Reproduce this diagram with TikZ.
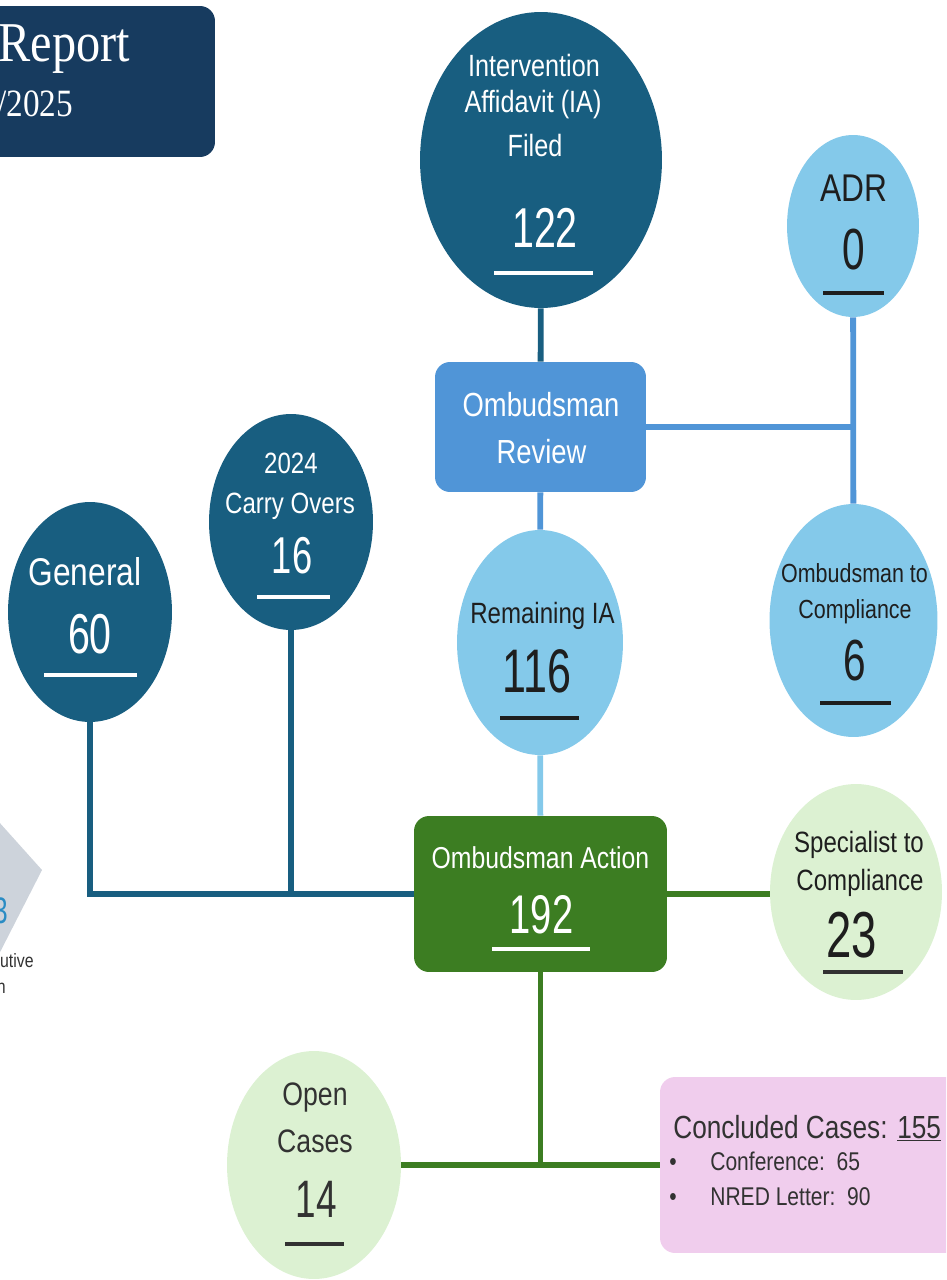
\documentclass[tikz,border=0pt]{standalone}
\usepackage{fontspec}
\setmainfont{Liberation Sans}[FakeStretch=0.82]
\newfontfamily\numfont{Liberation Sans}[FakeStretch=0.7]
\newfontfamily\headfont{Liberation Serif}[FakeStretch=0.86]
\usetikzlibrary{shapes,positioning}
\definecolor{navy}{RGB}{23,59,95}
\definecolor{deepteal}{RGB}{24,94,128}
\definecolor{reviewblue}{RGB}{80,149,215}
\definecolor{skyblue}{RGB}{132,201,234}
\definecolor{actiongreen}{RGB}{60,125,34}
\definecolor{mint}{RGB}{220,241,210}
\definecolor{pinkish}{RGB}{240,205,237}
\definecolor{diamondgrey}{RGB}{205,211,219}
\definecolor{inkdark}{RGB}{30,30,30}
\definecolor{inkgrey}{RGB}{50,50,50}
\definecolor{digitblue}{RGB}{42,140,196}
\tikzstyle{darkball} = [ellipse, fill=deepteal, inner sep=0pt]
\tikzstyle{skyball} = [ellipse, fill=skyblue, inner sep=0pt]
\tikzstyle{mintball} = [ellipse, fill=mint, inner sep=0pt]
\tikzstyle{block} = [rectangle, rounded corners=0.3cm, inner sep=0pt]
\tikzstyle{line} = [draw, line width=3.3pt]
\tikzstyle{txt} = [inner sep=0pt, anchor=base]
\tikzstyle{uline} = [draw, line width=2.8pt]

\begin{document}
\begin{tikzpicture}[x=0.02cm,y=-0.02cm]
  \useasboundingbox (0,0) rectangle (946,1280);
  \clip (0,0) rectangle (946,1280);

  % title box
  \node [block, fill=navy, minimum width=4.9cm, minimum height=3.02cm] (title) at (92.5,81.5) {};
  \node [txt, anchor=base west, text=white, font=\headfont\fontsize{32}{36}\selectfont] (report) at (-2,62) {Report};
  \node [txt, anchor=base west, text=white, font=\headfont\fontsize{22}{26}\selectfont] (year) at (-3,117) {/2025};

  % cut diamond on the left
  \fill [diamondgrey] (-10,812) -- (42,870) -- (-5,962) -- cycle;
  \node [txt, anchor=base east, text=digitblue, font=\numfont\fontsize{21}{24}\selectfont] (three) at (8,923) {3};
  \node [txt, anchor=base east, text=inkgrey, font=\fontsize{11}{13}\selectfont] (utive) at (34,967) {utive};
  \node [txt, anchor=base east, text=inkgrey, font=\fontsize{11}{13}\selectfont] (ntail) at (6,993) {n};

  % main nodes
  \node [darkball, minimum width=4.84cm, minimum height=5.92cm] (ia) at (541,160) {};
  \node [skyball, minimum width=2.64cm, minimum height=3.64cm] (adr) at (853,226) {};
  \node [block, fill=reviewblue, minimum width=4.22cm, minimum height=2.6cm] (review) at (540.5,427) {};
  \node [skyball, minimum width=3.32cm, minimum height=4.5cm] (remaining) at (540,642.5) {};
  \node [skyball, minimum width=3.36cm, minimum height=4.66cm] (otc) at (853.5,620.5) {};
  \node [darkball, minimum width=3.28cm, minimum height=4.4cm] (general) at (90,612) {};
  \node [darkball, minimum width=3.28cm, minimum height=4.32cm] (carry) at (291,522) {};
  \node [block, fill=actiongreen, minimum width=5.06cm, minimum height=3.12cm] (action) at (540.5,894) {};
  \node [mintball, minimum width=3.44cm, minimum height=4.32cm] (specialist) at (856,892) {};
  \node [mintball, minimum width=3.48cm, minimum height=4.56cm] (open) at (314,1165) {};
  \node [block, fill=pinkish, minimum width=6.4cm, minimum height=3.52cm] (concluded) at (820,1165) {};

  % connectors
  \path [line, deepteal] (ia) -- (review);
  \path [line, reviewblue] (review) -- (review -| adr);
  \path [line, reviewblue] (adr) -- (otc);
  \path [line, reviewblue] (review) -- (remaining);
  \path [line, skyblue] (remaining) -- (action);
  \path [line, deepteal] (general) |- (action);
  \path [line, deepteal] (carry) -- (carry |- action);
  \path [line, actiongreen] (action.east) -- (action.east -| specialist.west);
  \path [line, actiongreen] (action) -- (action |- open);
  \path [line, actiongreen] (open) -- (concluded);

  % texts
  \node [txt, text=white, font=\fontsize{17.5}{20}\selectfont] (iaA) at (534,77) {Intervention};
  \node [txt, text=white, font=\fontsize{17.5}{20}\selectfont] (iaB) at (533,113) {Affidavit (IA)};
  \node [txt, text=white, font=\fontsize{17.5}{20}\selectfont] (iaC) at (535,157) {Filed};
  \node [txt, text=white, font=\numfont\fontsize{32}{36}\selectfont] (iaN) at (545,248) {122};
  \path [uline, white] (494,273) -- (593,273);

  \node [txt, text=inkdark, font=\fontsize{22}{26}\selectfont] (adrA) at (854,202) {ADR};
  \node [txt, text=inkdark, font=\numfont\fontsize{33}{36}\selectfont] (adrN) at (853.5,270) {0};
  \path [uline, inkdark] (823,293) -- (884,293);

  \node [txt, text=white, font=\fontsize{19}{22}\selectfont] (revA) at (541,416) {Ombudsman};
  \node [txt, text=white, font=\fontsize{19}{22}\selectfont] (revB) at (541.5,463) {Review};

  \node [txt, text=inkdark, font=\fontsize{16.7}{20}\selectfont] (remA) at (542.5,623) {Remaining IA};
  \node [txt, text=inkdark, font=\numfont\fontsize{35}{40}\selectfont] (remN) at (537,692) {116};
  \path [uline, inkdark] (500,718) -- (579,718);

  \node [txt, text=inkdark, font=\fontsize{14.9}{18}\selectfont] (otcA) at (854.5,582) {Ombudsman to};
  \node [txt, text=inkdark, font=\fontsize{14.9}{18}\selectfont] (otcB) at (855,618) {Compliance};
  \node [txt, text=inkdark, font=\numfont\fontsize{33}{36}\selectfont] (otcN) at (854.5,680) {6};
  \path [uline, inkdark] (820,703) -- (891,703);

  \node [txt, text=white, font=\fontsize{22}{26}\selectfont] (genA) at (85,585) {General};
  \node [txt, text=white, font=\numfont\fontsize{32}{36}\selectfont] (genN) at (90,653) {60};
  \path [uline, white] (44,675) -- (137,675);

  \node [txt, text=white, font=\fontsize{16.7}{20}\selectfont] (carA) at (291,473) {2024};
  \node [txt, text=white, font=\fontsize{16.7}{20}\selectfont] (carB) at (290,513) {Carry Overs};
  \node [txt, text=white, font=\numfont\fontsize{29.5}{34}\selectfont] (carN) at (292,573) {16};
  \path [uline, white] (257,597) -- (330,597);

  \node [txt, text=white, font=\fontsize{17.2}{20}\selectfont] (actA) at (540.5,868) {Ombudsman Action};
  \node [txt, text=white, font=\numfont\fontsize{31}{36}\selectfont] (actN) at (541.5,933) {192};
  \path [uline, white] (492,949) -- (590,949);

  \node [txt, text=inkdark, font=\fontsize{16.7}{20}\selectfont] (speA) at (859,852) {Specialist to};
  \node [txt, text=inkdark, font=\fontsize{16.7}{20}\selectfont] (speB) at (860,890) {Compliance};
  \node [txt, text=inkdark, font=\numfont\fontsize{37}{40}\selectfont] (speN) at (851.5,957) {23};
  \path [uline, inkgrey] (823,972) -- (903,972);

  \node [txt, text=inkgrey, font=\fontsize{18.5}{22}\selectfont] (opeA) at (315,1105) {Open};
  \node [txt, text=inkgrey, font=\fontsize{18.5}{22}\selectfont] (opeB) at (315,1152) {Cases};
  \node [txt, text=inkgrey, font=\numfont\fontsize{30}{34}\selectfont] (opeN) at (316,1217) {14};
  \path [uline, inkgrey] (285,1244) -- (344,1244);

  \node [txt, anchor=base west, text=inkgrey, font=\fontsize{18.2}{22}\selectfont] (conA) at (673,1138) {Concluded Cases: \underline{155}};
  \node [txt, text=inkgrey, font=\fontsize{14.6}{18}\selectfont] (bulA) at (673,1170) {•};
  \node [txt, anchor=base west, text=inkgrey, font=\fontsize{14.6}{18}\selectfont] (conB) at (710,1170) {Conference:\ \ 65};
  \node [txt, text=inkgrey, font=\fontsize{14.6}{18}\selectfont] (bulB) at (673,1205) {•};
  \node [txt, anchor=base west, text=inkgrey, font=\fontsize{14.6}{18}\selectfont] (conC) at (710,1205) {NRED Letter:\ \ 90};
\end{tikzpicture}
\end{document}
